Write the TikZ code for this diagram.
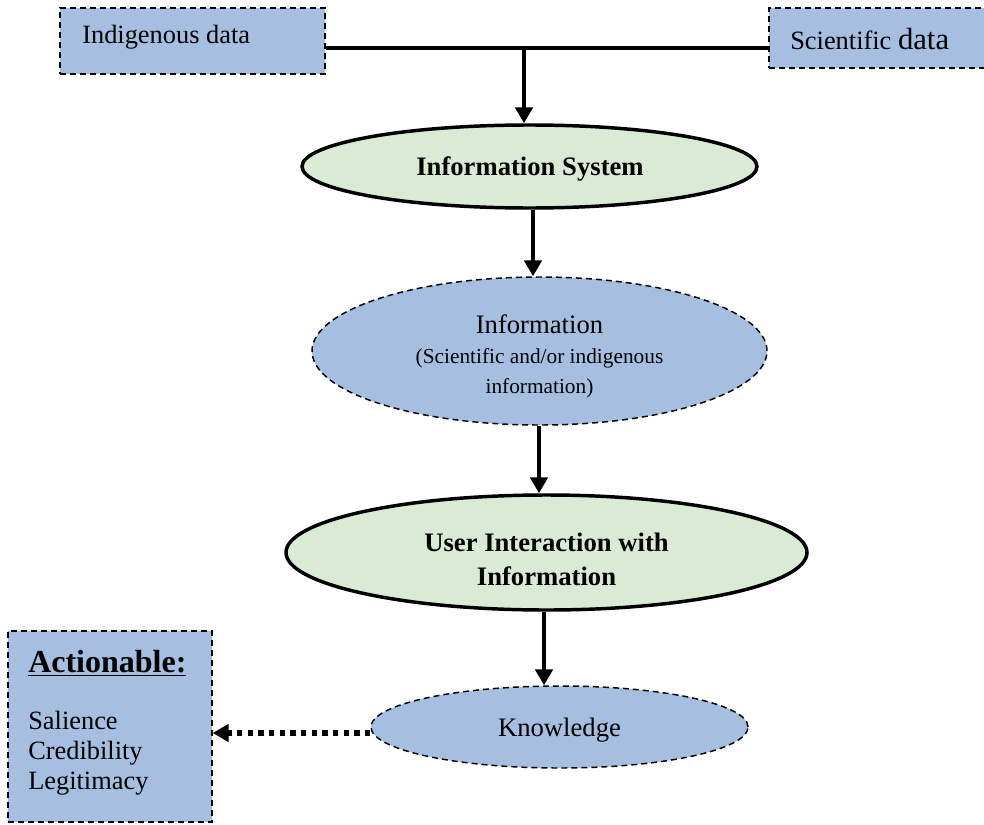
\documentclass[tikz,border=0pt]{standalone}
\usepackage{fontspec}
\setmainfont{Liberation Serif}
\usetikzlibrary{shapes.geometric,arrows.meta}
\definecolor{boxblue}{HTML}{A6BEE0}
\definecolor{ellgreen}{HTML}{DAEBD5}
\begin{document}
\begin{tikzpicture}[x=0.75pt,y=-0.75pt,
  dashbox/.style={draw=black,fill=boxblue,line width=1.1pt,dash pattern=on 4.5pt off 3pt,inner sep=0pt},
  solidell/.style={ellipse,draw=black,fill=ellgreen,line width=2.6pt,inner sep=0pt},
  dashell/.style={ellipse,draw=black,fill=boxblue,line width=1.1pt,dash pattern=on 4.5pt off 3pt,inner sep=0pt},
  btxt/.style={inner sep=0pt,align=center,font=\fontsize{20}{25.5}\selectfont\bfseries},
  ctxt/.style={inner sep=0pt,align=center,font=\fontsize{20}{24}\selectfont},
  txt/.style={inner sep=0pt,font=\fontsize{19.8}{22.5}\selectfont},
  flow/.style={line width=3.3pt,-{Triangle[length=12pt,width=13pt]}},
  dotflow/.style={line width=4pt,dash pattern=on 4pt off 4pt,-{Triangle[length=12pt,width=13pt]}}]
\clip (0,0) rectangle (984,824);
\fill[white] (0,0) rectangle (984,824);
% data boxes
\node[dashbox,minimum width=265*0.75pt,minimum height=66*0.75pt] (ind) at (192.5,41) {};
\node[txt,anchor=west] (indt) at (82,37) {Indigenous data};
\node[dashbox,minimum width=221*0.75pt,minimum height=60*0.75pt] (sci) at (879.5,38) {};
\node[txt,anchor=west] (scit) at (790,39) {Scientific {\fontsize{23}{24}\selectfont data}};
% junction
\coordinate (jy) at (0,48);
\coordinate (j) at (524,48);
\draw[line width=3.5pt] (ind.east |- jy) -- (sci.west |- jy);
% ellipses
\node[solidell,minimum width=455*0.75pt,minimum height=83*0.75pt] (is) at (529.5,166.5) {};
\node[btxt] (ist) at (530,169) {Information System};
\node[dashell,minimum width=455*0.75pt,minimum height=148*0.75pt] (inf) at (539.5,351) {};
\node[ctxt] (inft) at (539.5,356)
  {Information\\[-1pt]{\fontsize{16}{18.75}\selectfont (Scientific and/or indigenous}\\[-2pt]{\fontsize{16}{18.75}\selectfont information)}};
\node[solidell,minimum width=521*0.75pt,minimum height=115*0.75pt] (ui) at (546.5,552.5) {};
\node[btxt] (uit) at (546.5,559) {User Interaction with\\Information};
\node[dashell,minimum width=377*0.75pt,minimum height=82*0.75pt] (kn) at (559.5,727) {};
\node[ctxt] (knt) at (559.5,730) {Knowledge};
% actionable box
\node[dashbox,minimum width=204*0.75pt,minimum height=191*0.75pt] (act) at (110,726.5) {};
\node[txt,anchor=north west,align=left] (actt) at (28,650)
  {{\fontsize{24}{28}\selectfont\bfseries\underline{Actionable:}}\\[20pt]Salience\\Credibility\\Legitimacy};
% connectors
\coordinate (kstart) at ([yshift=-4.5pt]kn.west);
\draw[flow] (j) -- (j |- is.north);
\draw[flow] (is.south -| 533,0) -- (inf.north -| 533,0);
\draw[flow] (inf.south -| 539,0) -- (ui.north -| 539,0);
\draw[flow] (ui.south -| 544,0) -- (kn.north -| 544,0);
\draw[dotflow] (kstart) -- (act.east |- kstart);
\end{tikzpicture}
\end{document}
